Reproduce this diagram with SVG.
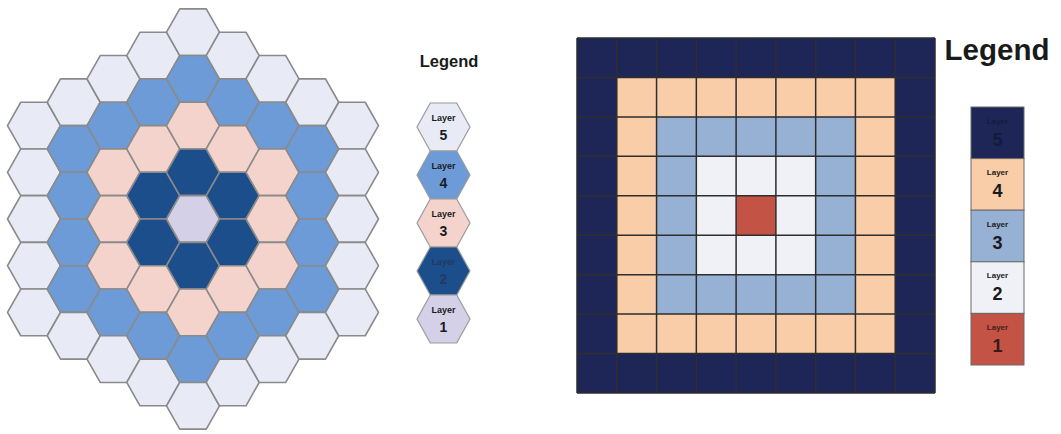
<svg xmlns="http://www.w3.org/2000/svg" xmlns:xlink="http://www.w3.org/1999/xlink" width="1061" height="434" viewBox="0 0 1061 434">
<style>
.hx{stroke:#8a8a8a;stroke-width:1.6;stroke-linejoin:round}
.h5{fill:#e8ebf5}.h4{fill:#6d9bd8}.h3{fill:#f3d3cb}.h2{fill:#1c4e8c}.h1{fill:#d4d0e8}
.s5{fill:#1e2658}.s4{fill:#f9cda7}.s3{fill:#96b1d4}.s2{fill:#eff1f6}.s1{fill:#c25345}
.lg{font-family:"Liberation Sans",Arial,sans-serif;font-weight:bold;fill:#1a1a1a;text-anchor:middle}
.grid{stroke:#2e2e2e;stroke-width:1.5;fill:none}
.lbox{stroke:#6a6a6a;stroke-width:1}
</style>
<defs>
<polygon id="hx" points="-26.5,0 -13.25,-23.35 13.25,-23.35 26.5,0 13.25,23.35 -13.25,23.35"/>
<polygon id="lh" points="-26.5,0 -13.25,-24 13.25,-24 26.5,0 13.25,24 -13.25,24"/>
</defs>
<rect width="1061" height="434" fill="#ffffff"/>
<g id="hex-grid" class="hx">
<!-- q=-4 -->
<use href="#hx" x="34" y="125.6" class="h5"/><use href="#hx" x="34" y="172.3" class="h5"/><use href="#hx" x="34" y="219" class="h5"/><use href="#hx" x="34" y="265.7" class="h5"/><use href="#hx" x="34" y="312.4" class="h5"/>
<!-- q=-3 -->
<use href="#hx" x="73.75" y="102.25" class="h5"/><use href="#hx" x="73.75" y="148.95" class="h4"/><use href="#hx" x="73.75" y="195.65" class="h4"/><use href="#hx" x="73.75" y="242.35" class="h4"/><use href="#hx" x="73.75" y="289.05" class="h4"/><use href="#hx" x="73.75" y="335.75" class="h5"/>
<!-- q=-2 -->
<use href="#hx" x="113.5" y="78.9" class="h5"/><use href="#hx" x="113.5" y="125.6" class="h4"/><use href="#hx" x="113.5" y="172.3" class="h3"/><use href="#hx" x="113.5" y="219" class="h3"/><use href="#hx" x="113.5" y="265.7" class="h3"/><use href="#hx" x="113.5" y="312.4" class="h4"/><use href="#hx" x="113.5" y="359.1" class="h5"/>
<!-- q=-1 -->
<use href="#hx" x="153.25" y="55.55" class="h5"/><use href="#hx" x="153.25" y="102.25" class="h4"/><use href="#hx" x="153.25" y="148.95" class="h3"/><use href="#hx" x="153.25" y="195.65" class="h2"/><use href="#hx" x="153.25" y="242.35" class="h2"/><use href="#hx" x="153.25" y="289.05" class="h3"/><use href="#hx" x="153.25" y="335.75" class="h4"/><use href="#hx" x="153.25" y="382.45" class="h5"/>
<!-- q=0 -->
<use href="#hx" x="193" y="32.2" class="h5"/><use href="#hx" x="193" y="78.9" class="h4"/><use href="#hx" x="193" y="125.6" class="h3"/><use href="#hx" x="193" y="172.3" class="h2"/><use href="#hx" x="193" y="219" class="h1"/><use href="#hx" x="193" y="265.7" class="h2"/><use href="#hx" x="193" y="312.4" class="h3"/><use href="#hx" x="193" y="359.1" class="h4"/><use href="#hx" x="193" y="405.8" class="h5"/>
<!-- q=1 -->
<use href="#hx" x="232.75" y="55.55" class="h5"/><use href="#hx" x="232.75" y="102.25" class="h4"/><use href="#hx" x="232.75" y="148.95" class="h3"/><use href="#hx" x="232.75" y="195.65" class="h2"/><use href="#hx" x="232.75" y="242.35" class="h2"/><use href="#hx" x="232.75" y="289.05" class="h3"/><use href="#hx" x="232.75" y="335.75" class="h4"/><use href="#hx" x="232.75" y="382.45" class="h5"/>
<!-- q=2 -->
<use href="#hx" x="272.5" y="78.9" class="h5"/><use href="#hx" x="272.5" y="125.6" class="h4"/><use href="#hx" x="272.5" y="172.3" class="h3"/><use href="#hx" x="272.5" y="219" class="h3"/><use href="#hx" x="272.5" y="265.7" class="h3"/><use href="#hx" x="272.5" y="312.4" class="h4"/><use href="#hx" x="272.5" y="359.1" class="h5"/>
<!-- q=3 -->
<use href="#hx" x="312.25" y="102.25" class="h5"/><use href="#hx" x="312.25" y="148.95" class="h4"/><use href="#hx" x="312.25" y="195.65" class="h4"/><use href="#hx" x="312.25" y="242.35" class="h4"/><use href="#hx" x="312.25" y="289.05" class="h4"/><use href="#hx" x="312.25" y="335.75" class="h5"/>
<!-- q=4 -->
<use href="#hx" x="352" y="125.6" class="h5"/><use href="#hx" x="352" y="172.3" class="h5"/><use href="#hx" x="352" y="219" class="h5"/><use href="#hx" x="352" y="265.7" class="h5"/><use href="#hx" x="352" y="312.4" class="h5"/>
</g>
<g id="hex-legend">
<text class="lg" x="449" y="67" font-size="16.5">Legend</text>
<g id="hl5"><use href="#lh" x="443.5" y="127" class="h5" stroke="#9a9a9a" stroke-width="1.2"/><text class="lg" x="443.5" y="121" font-size="9">Layer</text><text class="lg" x="443.5" y="140" font-size="14">5</text></g>
<g id="hl4"><use href="#lh" x="443.5" y="175" class="h4" stroke="#9a9a9a" stroke-width="1.2"/><text class="lg" x="443.5" y="169" font-size="9" fill="#2a3550">Layer</text><text class="lg" x="443.5" y="188" font-size="14" fill="#2a3550">4</text></g>
<g id="hl3"><use href="#lh" x="443.5" y="223" class="h3" stroke="#9a9a9a" stroke-width="1.2"/><text class="lg" x="443.5" y="217" font-size="9">Layer</text><text class="lg" x="443.5" y="236" font-size="14">3</text></g>
<g id="hl2"><use href="#lh" x="443.5" y="271" class="h2" stroke="#9a9a9a" stroke-width="1.2"/><text class="lg" x="443.5" y="265" font-size="9" style="fill:#223a60">Layer</text><text class="lg" x="443.5" y="284" font-size="14" style="fill:#223a60">2</text></g>
<g id="hl1"><use href="#lh" x="443.5" y="319" class="h1" stroke="#9a9a9a" stroke-width="1.2"/><text class="lg" x="443.5" y="313" font-size="9">Layer</text><text class="lg" x="443.5" y="332" font-size="14">1</text></g>
</g>
<g id="square-grid">
<rect class="s5" x="577" y="38" width="358" height="355"/>
<rect class="s4" x="616.78" y="77.44" width="278.44" height="276.12"/>
<rect class="s3" x="656.56" y="116.89" width="198.88" height="197.22"/>
<rect class="s2" x="696.33" y="156.33" width="119.34" height="118.34"/>
<rect class="s1" x="736.11" y="195.78" width="39.78" height="39.44"/>
<path class="grid" d="M577,38V393M616.78,38V393M656.56,38V393M696.33,38V393M736.11,38V393M775.89,38V393M815.67,38V393M855.44,38V393M895.22,38V393M935,38V393M577,38H935M577,77.44H935M577,116.89H935M577,156.33H935M577,195.78H935M577,235.22H935M577,274.67H935M577,314.11H935M577,353.56H935M577,393H935"/>
</g>
<g id="square-legend">
<text class="lg" x="997" y="60" font-size="29.5">Legend</text>
<g id="sl5"><rect class="s5 lbox" x="971" y="107" width="53" height="51.6"/><text class="lg" x="997.5" y="123.5" font-size="8" style="fill:#141a3c">Layer</text><text class="lg" x="997.5" y="145.5" font-size="18" style="fill:#141a3c">5</text></g>
<g id="sl4"><rect class="s4 lbox" x="971" y="158.6" width="53" height="51.6"/><text class="lg" x="997.5" y="175.1" font-size="8">Layer</text><text class="lg" x="997.5" y="197.1" font-size="18">4</text></g>
<g id="sl3"><rect class="s3 lbox" x="971" y="210.2" width="53" height="51.6"/><text class="lg" x="997.5" y="226.7" font-size="8">Layer</text><text class="lg" x="997.5" y="248.7" font-size="18">3</text></g>
<g id="sl2"><rect class="s2 lbox" x="971" y="261.8" width="53" height="51.6"/><text class="lg" x="997.5" y="278.3" font-size="8">Layer</text><text class="lg" x="997.5" y="300.3" font-size="18">2</text></g>
<g id="sl1"><rect class="s1 lbox" x="971" y="313.4" width="53" height="51.6"/><text class="lg" x="997.5" y="329.9" font-size="8" style="fill:#4a1f1a">Layer</text><text class="lg" x="997.5" y="351.9" font-size="18" style="fill:#3a1a16">1</text></g>
</g>
</svg>
